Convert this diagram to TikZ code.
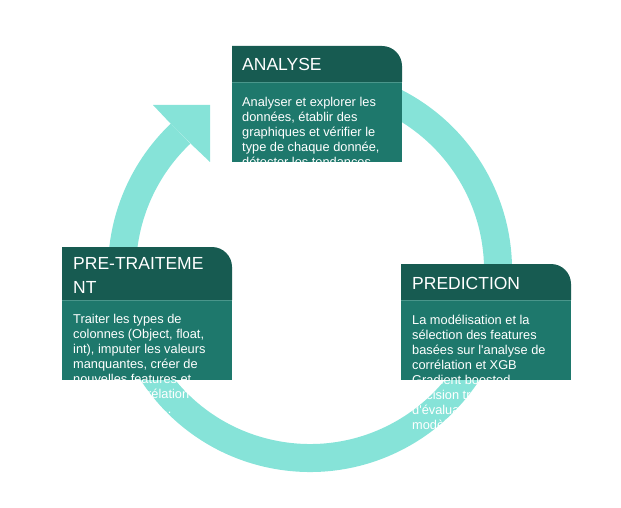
\documentclass[tikz,border=0pt]{standalone}
\usepackage{fontspec}
\setmainfont{Liberation Sans}
\definecolor{ringc}{HTML}{86E3D8}
\definecolor{hdrc}{HTML}{175B51}
\definecolor{bdyc}{HTML}{1E786C}
\definecolor{sepc}{HTML}{4A968B}
\begin{document}
\begin{tikzpicture}[x=1pt,y=1pt,
  titletext/.style={anchor=base west, inner sep=0, text=white, font=\fontsize{17.5}{24}\selectfont},
  bodytext/.style={anchor=north west, inner sep=0, text=white, align=left, font=\fontsize{12.8}{15}\selectfont},
  hdrfill/.style={fill=hdrc},
  bdyfill/.style={fill=bdyc},
  sepline/.style={draw=sepc, line width=0.8pt}]
\useasboundingbox (0,0) rectangle (621,507);
% ring with arrow
\draw[ringc, line width=28pt] (310,237) ++(80:188) arc[start angle=80, end angle=-226.5, radius=188];
\fill[ringc] (210,402) -- (153,402) -- (170,384) -- (190,364) -- (210,345) -- cycle;
% ANALYSE card
\fill[bdyfill] (232,345) rectangle (402,425);
\fill[hdrfill] (232,425) -- (232,461) -- (382,461) arc[start angle=90, end angle=0, radius=20] -- (402,425) -- cycle;
\draw[sepline] (232,425) -- (402,425);
\node[titletext] (analyseT) at (242,436) {ANALYSE};
\node[bodytext] (analyseB) at (242,411) {\rule{0pt}{10pt}Analyser et explorer les\\données, établir des\\graphiques et vérifier le\\type de chaque donnée,\\détecter les tendances...};
% PRE-TRAITEMENT card
\fill[bdyfill] (62,127) rectangle (232,207);
\fill[hdrfill] (62,207) -- (62,260) -- (212,260) arc[start angle=90, end angle=0, radius=20] -- (232,207) -- cycle;
\draw[sepline] (62,207) -- (232,207);
\node[titletext] (preT1) at (73,238) {PRE-TRAITEME};
\node[titletext] (preT2) at (73,214) {NT};
\node[bodytext] (preB) at (73,194) {\rule{0pt}{10pt}Traiter les types de\\colonnes (Object, float,\\int), imputer les valeurs\\manquantes, créer de\\nouvelles features et\\étudier la corrélation\\entre variables,...};
% PREDICTION card
\fill[bdyfill] (401,127) rectangle (571,207);
\fill[hdrfill] (401,207) -- (401,243) -- (551,243) arc[start angle=90, end angle=0, radius=20] -- (571,207) -- cycle;
\draw[sepline] (401,207) -- (571,207);
\node[titletext] (predT) at (412,218) {PREDICTION};
\node[bodytext] (predB) at (412,193) {\rule{0pt}{10pt}La modélisation et la\\sélection des features\\basées sur l\textquotesingle{}analyse de\\corrélation et XGB\\Gradient boosted\\decision tree et\\d\textquotesingle{}évaluation des\\modèles.};
\end{tikzpicture}
\end{document}
